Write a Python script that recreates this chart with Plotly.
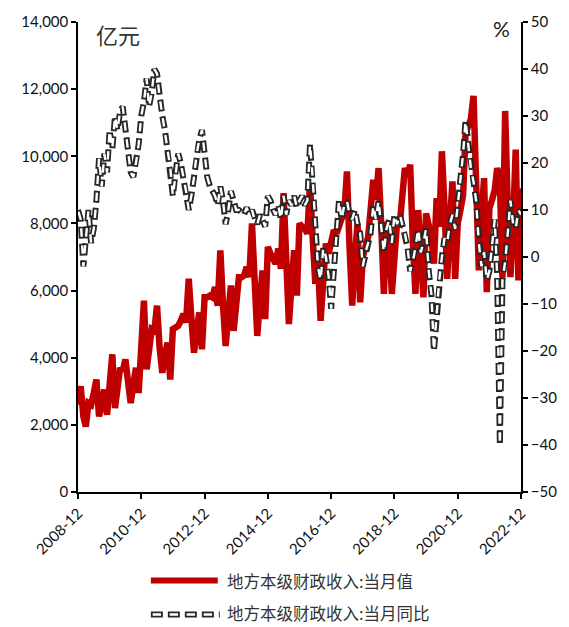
import pandas as pd
import plotly.graph_objects as go

# Monthly local fiscal revenue, 2008-12 .. 2022-12
months = pd.date_range("2008-12-01", "2022-12-01", freq="MS")

# 当月值 (亿元)
revenue = [
    2600, 3150, 2250, 1950, 2650, 2600, 2950, 3350, 2250, 2700,
    3050, 2300, 3000, 4100, 2500, 3300, 3700, 3600, 3950, 3300,
    2650, 3200, 3700, 2950, 4300, 5700, 3650, 4400, 4850, 4800,
    5550, 4300, 3550, 4100, 4450, 3350, 4850, 4900, 4950, 5100,
    5300, 5050, 6350, 5200, 4150, 4800, 5350, 4250, 5800, 5800,
    5850, 5800, 6100, 5550, 7200, 5600, 4350, 5300, 6150, 4800,
    5700, 6400, 6400, 6450, 6700, 6400, 8000, 6200, 4650, 5700,
    6600, 5150, 7300, 7100, 6900, 6800, 7250, 6650, 8900, 6800,
    5000, 6200, 7200, 5850, 8000, 7900, 7850, 7700, 9200, 7600,
    6200, 6900, 5100, 6300, 7400, 7100, 7600, 7800, 7700, 8000,
    8150, 8300, 9550, 7300, 5550, 7000, 8000, 5650, 7000, 7300,
    7600, 8400, 9300, 8700, 9650, 8000, 5900, 8050, 7600, 5900,
    7300, 8050, 8000, 8700, 9650, 9400, 9750, 7500, 5900, 8400,
    7000, 5800, 8300, 7800, 7600, 6800, 8750, 7900, 10150, 8500,
    6350, 8000, 9250, 6350, 8000, 8400, 8850, 10700, 10900, 11100,
    11800, 9000, 6600, 8200, 9350, 5950, 8450, 8700, 9000, 9650,
    9300, 6400, 11350, 8500, 6400, 8000, 10200, 6300, 9050,
]

# 当月同比 (%)
yoy = [
    10, 8, -2, 3, 10, 3, 6, 12, 21, 15,
    22, 18, 27, 23, 30, 27, 31, 32, 27, 22,
    18, 17, 20, 24, 30, 33, 38, 32, 35, 40,
    39, 34, 30, 27, 23, 19, 13, 18, 22, 20,
    17, 14, 10, 13, 17, 22, 25, 27, 22, 17,
    15, 14, 13, 11, 15, 12, 7, 10, 14, 12,
    10, 10, 9.5, 9, 10.5, 9, 10, 8, 7, 9,
    8, 6.5, 13, 12, 10, 9, 11, 8, 13, 9,
    12, 11, 13, 10.5, 12, 13, 11, 12, 24, 17,
    7, -2, -5, 2, 0, -4, -11, -3, 5, 12,
    8, 11, 12, 9, 8, 10, 7, 5, -2, 1,
    3, 5, 11, 8, 12, 7, 1, 6, 8, 3,
    9, 7, 9, 7, 5, 2, -3, -1, 2, 6,
    1, 3, 6, -3, -8, -20, -13, -5, 0, 4,
    3, 7, 9, 6, 11, 16, 22, 29, 24, 19,
    16, 12, 3, -2, 1, -5, -3, 2, 8, -4,
    -40, -5, -1, 5, 12, 7, 6, 10, 9,
]

tick_dates = pd.date_range("2008-12-01", "2022-12-01", freq="24MS")
tick_text = [d.strftime("%Y-%m") for d in tick_dates]
left_ticks = list(range(0, 14001, 2000))
right_ticks = list(range(-50, 51, 10))

RED = "#C00000"
DARK = "#262626"
OUTER_DASH = "12px,5px"
INNER_DASH = "0px,1.8px,8.4px,6.8px"
OUTER_W = 6
INNER_W = 2.4
TICK_FONT = dict(family="Lato, Liberation Sans, sans-serif", size=15, color="#111111")
CJK = "Noto Sans CJK SC"

fig = go.Figure()

fig.add_trace(go.Scatter(
    x=months, y=revenue, mode="lines", name="地方本级财政收入:当月值",
    line=dict(color=RED, width=6.5), yaxis="y", showlegend=False,
))
# hollow dashed line: dark outline with a white core
fig.add_trace(go.Scatter(
    x=months, y=yoy, mode="lines", name="地方本级财政收入:当月同比",
    line=dict(color=DARK, width=OUTER_W, dash=OUTER_DASH), yaxis="y2", showlegend=False,
))
fig.add_trace(go.Scatter(
    x=months, y=yoy, mode="lines", hoverinfo="skip",
    line=dict(color="white", width=INNER_W, dash=INNER_DASH), yaxis="y2", showlegend=False,
))

axis_common = dict(
    showgrid=False, zeroline=False,
    showline=True, linecolor="black", linewidth=1.5,
    ticks="outside", ticklen=5, tickcolor="black", tickwidth=1.5,
    tickfont=TICK_FONT,
)

fig.update_layout(
    width=569, height=627,
    margin=dict(l=78, r=41, t=20, b=135),
    paper_bgcolor="white", plot_bgcolor="white",
    xaxis=dict(range=[months[0], months[-1]], tickvals=tick_dates,
               ticktext=tick_text, tickangle=-45, **axis_common),
    yaxis=dict(range=[0, 14000], tickvals=left_ticks,
               ticktext=[f"{v:,}" for v in left_ticks], **axis_common),
    yaxis2=dict(range=[-50, 50], tickvals=right_ticks, overlaying="y",
                side="right", **axis_common),
)

# unit labels
fig.add_annotation(text="亿元", xref="paper", yref="paper", x=0.036, y=1.012,
                   xanchor="left", yanchor="top", showarrow=False,
                   font=dict(family=CJK, size=22, color="#333333"))
fig.add_annotation(text="%", xref="paper", yref="paper", x=0.932, y=1.016,
                   xanchor="left", yanchor="top", showarrow=False,
                   font=dict(family="Lato, sans-serif", size=21, color="#222222"))

# legend drawn below the plot
def py(ypix):
    return (492 - ypix) / 472

def px(xpix):
    return (xpix - 78) / 450

fig.add_shape(type="line", xref="paper", yref="paper",
              x0=px(152), x1=px(220), y0=py(581), y1=py(581),
              line=dict(color=RED, width=6))
fig.add_shape(type="line", xref="paper", yref="paper",
              x0=px(152), x1=px(222), y0=py(615), y1=py(615),
              line=dict(color=DARK, width=OUTER_W, dash=OUTER_DASH))
fig.add_shape(type="line", xref="paper", yref="paper",
              x0=px(152), x1=px(222), y0=py(615), y1=py(615),
              line=dict(color="white", width=INNER_W, dash=INNER_DASH))
fig.add_annotation(text="地方本级财政收入:当月值", xref="paper", yref="paper",
                   x=px(227), y=py(581), xanchor="left", yanchor="middle",
                   showarrow=False, font=dict(family=CJK, size=16.5, color="#333333"))
fig.add_annotation(text="地方本级财政收入:当月同比", xref="paper", yref="paper",
                   x=px(227), y=py(614), xanchor="left", yanchor="middle",
                   showarrow=False, font=dict(family=CJK, size=16.5, color="#333333"))

fig.write_html("out.html")
